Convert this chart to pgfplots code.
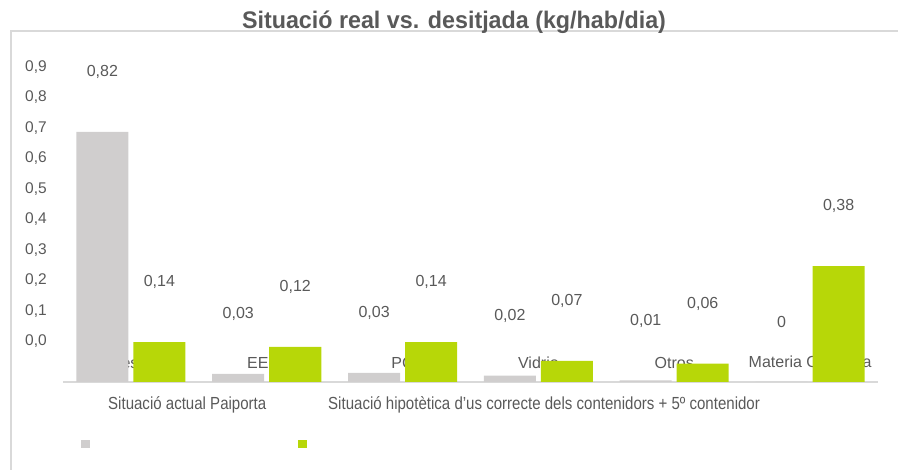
\documentclass[border=0pt]{standalone}
\usepackage{fontspec}
\setmainfont{Liberation Sans}
\newfontfamily\narrowfont{Liberation Sans}[FakeStretch=0.86]
\newfontfamily\titlefont{Liberation Sans}[FakeStretch=0.97]
\usepackage{pgfplots}
\pgfplotsset{compat=1.18}
\definecolor{bargray}{RGB}{208,206,206}
\definecolor{bargreen}{RGB}{183,215,8}
\definecolor{txt}{RGB}{89,89,89}
\definecolor{linegray}{RGB}{217,217,217}
\begin{document}
\begin{tikzpicture}
\path[use as bounding box] (0pt,0pt) rectangle (898pt,470pt);
\draw[linegray, line width=1.5pt] (11pt,0pt) -- (11pt,439pt) -- (898pt,439pt);
\begin{axis}[
  at={(63pt,88pt)}, anchor=south west,
  scale only axis, width=815pt, height=350.75pt,
  xmin=-0.5, xmax=5.5, ymin=0, ymax=1.15,
  enlargelimits=false, clip=false,
  axis x line*=bottom, axis y line*=left,
  y axis line style={draw=none},
  x axis line style={draw=linegray, line width=1.5pt},
  major tick length=0pt,
  xtick={0,1,2,3,4,5},
  xticklabels={Resta,EELL,PC,Vidrio,Otros,Materia Orgánica},
  xticklabel style={anchor=center, yshift=19pt, font=\fontsize{16}{18}\selectfont, text=txt},
  ytick={0.133,0.233,0.333,0.433,0.533,0.633,0.733,0.833,0.933,1.033},
  yticklabels={{0,0},{0,1},{0,2},{0,3},{0,4},{0,5},{0,6},{0,7},{0,8},{0,9}},
  yticklabel style={anchor=west, inner sep=0pt, xshift=-38pt, font=\fontsize{15.5}{17}\selectfont, text=txt},
  ybar, bar width=52pt,
  point meta=explicit symbolic,
  nodes near coords,
  every node near coord/.append style={anchor=center, yshift=60pt, font=\fontsize{16}{18}\selectfont, text=txt},
]
\addplot[fill=bargray, draw=none, bar shift=-28.5pt] table[meta=lab] {
x y lab
0 0.820 0,82
1 0.027 0,03
2 0.030 0,03
3 0.021 0,02
4 0.005 0,01
5 0.000 0
};
\addplot[fill=bargreen, draw=none, bar shift=28.5pt] table[meta=lab] {
x y lab
0 0.131 0,14
1 0.115 0,12
2 0.131 0,14
3 0.069 0,07
4 0.060 0,06
5 0.380 0,38
};
\end{axis}
\node[anchor=base, inner sep=0pt, text=txt, font=\titlefont\bfseries\fontsize{24}{27}\selectfont] at (454pt,441pt) {Situació real vs. desitjada (kg/hab/dia)};
\node[anchor=base west, inner sep=0pt, text=txt, font=\narrowfont\fontsize{17.5}{20}\selectfont] at (108pt,60.7pt) {Situació actual Paiporta};
\node[anchor=base west, inner sep=0pt, text=txt, font=\narrowfont\fontsize{17.5}{20}\selectfont] at (328pt,60.7pt) {Situació hipotètica d’us correcte dels contenidors + 5º contenidor};
\fill[bargray] (81pt,22pt) rectangle (90pt,30pt);
\fill[bargreen] (298pt,22pt) rectangle (307pt,30pt);
\end{tikzpicture}
\end{document}
